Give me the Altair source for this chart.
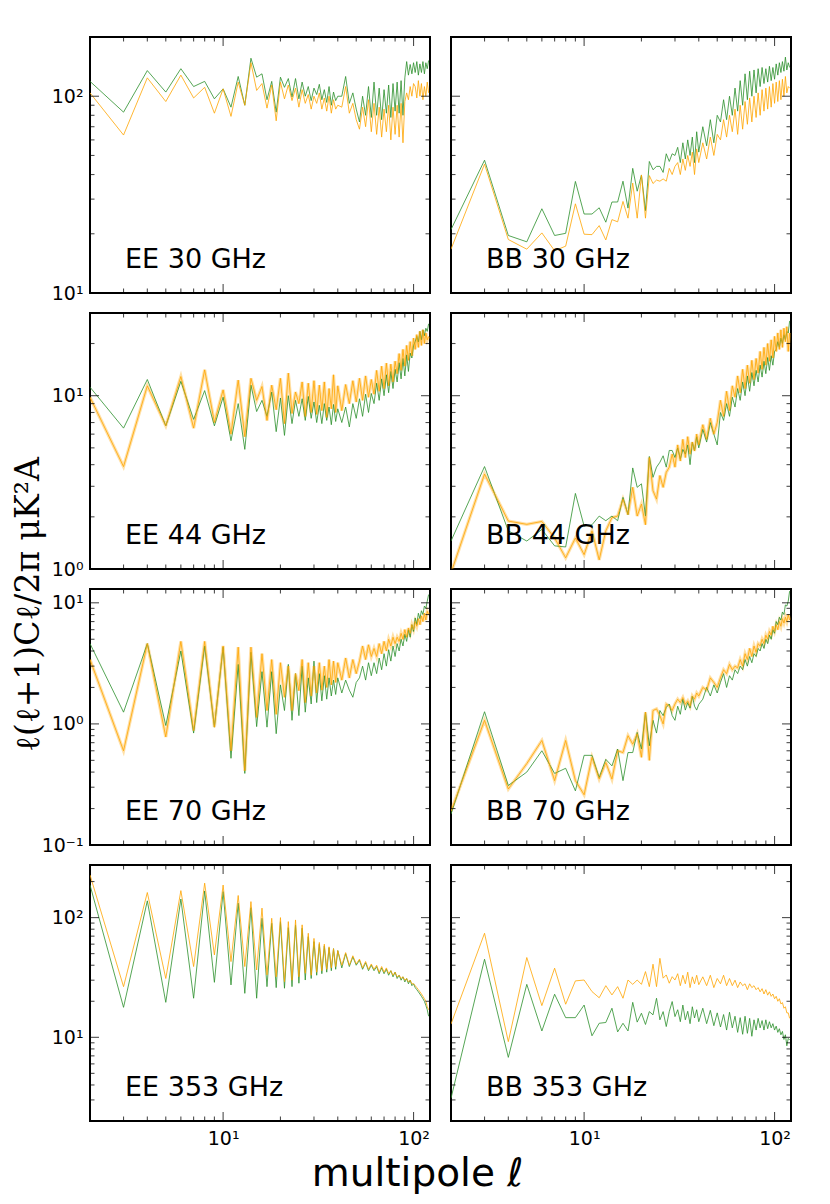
import altair as alt
import pandas as pd

# multipoles (ell) sampled
ELL = [2, 3, 4, 5, 6, 7, 8, 9, 10, 11, 12, 13, 14, 15, 16, 17, 18, 19, 20, 21,
       22, 23, 24, 25, 26, 27, 28, 29, 30, 31, 32, 33, 34, 35, 36, 37, 38, 39, 40,
       42, 44, 46, 48, 50, 52, 54, 56, 58, 60, 62, 64, 66, 68, 70, 72, 74, 76, 78, 80,
       82, 84, 86, 88, 90, 92, 94, 96, 98, 100, 102, 104, 106, 108, 110, 112, 114, 116, 118, 120]

EE30_G = [119, 83, 135, 105, 138, 112, 119, 97, 109, 88, 126, 90, 156, 125, 130, 96, 119, 83, 125, 111,
          123, 99, 123, 97, 118, 100, 112, 95, 110,
          102, 115, 96, 108, 93, 112, 90, 105, 95, 100,
          100, 126, 92, 104, 86, 74, 100, 80, 112, 78,
          118, 80, 110, 76, 108, 82, 114, 78, 116, 84,
          118, 82, 120, 80, 124, 150, 128, 145, 130, 148,
          132, 150, 128, 146, 132, 150, 130, 148, 138, 152]
EE30_O = [104, 63.5, 124, 94, 128, 98, 111, 82, 109, 79, 118, 90, 148, 107, 116, 87, 114, 75, 118, 97,
          114, 95, 110, 88, 108, 92, 102, 86, 100,
          92, 104, 86, 98, 84, 100, 82, 96, 86, 90,
          88, 112, 82, 92, 76, 68, 88, 70, 96, 66,
          92, 64, 88, 62, 86, 66, 90, 60, 88, 64,
          90, 62, 92, 58, 94, 104, 96, 112, 100, 116,
          112, 98, 120, 100, 116, 96, 112, 100, 118, 104]

BB30_G = [21, 47.3, 19.6, 18.2, 26.8, 19.6, 20.1, 36.9, 25.2, 25.2, 27.1, 22.9, 29, 29, 37, 27, 43, 32.9, 39.8, 26.2,
          46.6, 42.3, 44, 44, 41, 51, 46.6, 51, 50,
          55, 46, 58, 48, 60, 50, 62, 46, 66, 52,
          70, 56, 76, 58, 80, 74, 96, 76, 100, 80,
          110, 84, 120, 90, 130, 96, 134, 100, 136, 104,
          138, 112, 140, 116, 138, 118, 142, 120, 140, 122,
          146, 128, 148, 132, 150, 134, 158, 136, 148, 140]
BB30_O = [16.7, 45.2, 18.7, 16.7, 20.2, 16.4, 17.3, 28.4, 19.9, 19.8, 22, 18.6, 23.6, 23, 29.2, 24, 36.2, 24, 39.8, 24,
          39.5, 36, 37.5, 37, 38, 37, 43, 40, 44,
          46, 40, 48, 42, 50, 44, 52, 40, 54, 46,
          58, 48, 62, 50, 64, 60, 76, 62, 80, 66,
          86, 64, 90, 68, 94, 72, 98, 74, 100, 78,
          104, 80, 108, 84, 110, 86, 112, 88, 116, 92,
          118, 94, 120, 96, 122, 100, 126, 104, 112, 110]

EE44_G = [11.2, 6.5, 12.4, 6.7, 12.1, 7.3, 10.7, 6.7, 9.8, 5.5, 9.0, 4.9, 11.5, 8.1, 9.4, 7.6, 10.5, 6.2, 9.7, 5.9,
          10, 6.9, 9.4, 7.6, 9.6, 7.2, 9.9, 7.4, 9.2,
          7.0, 8.8, 6.9, 9.0, 7.2, 8.6, 6.8, 8.9, 7.1, 8.4,
          7.0, 8.6, 6.6, 9.0, 7.4, 9.6, 7.6, 10.2, 8.0, 10.3,
          9.0, 11.8, 9.4, 12.5, 10.0, 13.2, 10.4, 13.8, 11.0, 14.2,
          12.0, 15.5, 12.5, 16.4, 13.0, 17.2, 13.8, 17.6, 16.5, 19.5,
          20.5, 22, 20.4, 23.5, 21, 24, 22.2, 24.5, 23.5, 26]
EE44_O = [9.8, 3.9, 11.4, 6.7, 12.9, 6.5, 14.1, 7.0, 10.8, 6.0, 12.3, 5.8, 12.6, 9.4, 11.3, 7.2, 11.5, 8.3, 12.6, 6.9,
          13.5, 7.9, 10.5, 9.0, 12.0, 7.6, 11.8, 8.0, 12.2,
          7.8, 11.5, 8.2, 12.0, 7.5, 11.0, 8.4, 13.2, 8.0, 11.4,
          8.2, 11.6, 9.0, 12.2, 9.2, 12.6, 9.4, 13.0, 9.8, 12.4,
          10.2, 14.0, 10.6, 14.8, 11.0, 15.4, 11.4, 15.2, 12.0, 15.8,
          13.4, 17.5, 14.0, 18.5, 14.8, 19.5, 16.0, 20.5, 17.0, 21.5,
          18.5, 22.5, 19.0, 23.5, 19.5, 24.0, 20.0, 23.0, 21.0, 22.0]

BB44_G = [1.45, 3.9, 1.66, 1.45, 1.69, 1.36, 1.34, 2.73, 1.77, 1.8, 2.02, 1.9, 2.02, 1.9, 2.59, 2.06, 3.83, 2.96, 3.1, 2.02,
          4.46, 3.38, 3.87, 4.13, 4.5, 3.87, 4.83, 4.83, 4.4,
          5.0, 4.3, 4.9, 4.6, 5.2, 4.0, 5.4, 4.8, 5.8, 5.0,
          6.4, 5.4, 7.0, 6.0, 5.2, 8.0, 7.2, 9.0, 7.6, 9.8,
          8.6, 11.0, 9.4, 12.0, 10.0, 13.0, 10.6, 13.6, 11.4, 14.0,
          12.0, 15.0, 12.8, 15.8, 13.4, 16.6, 14.0, 17.0, 15.0, 18.0,
          18.5, 20.5, 19.0, 21.5, 20.0, 22.5, 21.0, 23.5, 23.0, 27.0]
BB44_O = [0.95, 3.53, 1.89, 1.81, 1.88, 1.51, 1.16, 1.51, 1.21, 1.66, 1.13, 1.66, 1.98, 2.02, 2.53, 2.06, 2.96, 2.02, 2.37, 1.8,
          4.4, 2.83, 2.53, 3.46, 2.96, 3.61, 3.87, 4.6, 3.87,
          5.2, 4.2, 5.6, 4.4, 5.8, 4.6, 5.4, 4.8, 6.0, 5.2,
          6.8, 5.6, 7.4, 6.0, 7.0, 9.4, 7.6, 10.6, 8.2, 11.4,
          9.8, 13.0, 10.4, 14.2, 11.0, 15.0, 11.8, 16.0, 12.4, 16.4,
          13.5, 18.0, 14.2, 19.0, 15.0, 20.0, 15.8, 21.0, 16.5, 22.0,
          18.0, 23.0, 18.5, 24.0, 19.0, 24.5, 20.5, 25.0, 18.0, 23.0]

EE70_G = [4.6, 1.25, 4.6, 0.97, 4.0, 0.84, 4.4, 0.94, 4.3, 0.52, 3.1, 0.39, 3.9, 0.95, 2.7, 0.94, 2.7, 0.83, 2.1, 1.29,
          3.1, 1.07, 2.6, 1.17, 3.0, 1.25, 2.4, 1.46, 3.3,
          1.5, 2.6, 1.55, 2.5, 1.6, 2.4, 1.7, 2.3, 1.75, 2.4,
          1.8, 2.3, 1.9, 1.66, 2.2, 2.4, 3.0, 2.3, 3.2, 2.5,
          3.2, 2.6, 3.5, 2.8, 3.8, 3.0, 4.1, 3.3, 4.4, 3.6,
          4.6, 4.0, 5.0, 4.4, 5.5, 4.8, 6.0, 5.2, 6.6, 5.8,
          7.5, 6.6, 8.2, 7.4, 8.6, 8.0, 9.4, 9.0, 10.3, 11.7]
EE70_O = [3.4, 0.6, 4.6, 0.78, 4.8, 0.88, 4.8, 0.94, 4.4, 0.6, 4.3, 0.41, 4.3, 1.13, 3.8, 1.29, 3.4, 1.2, 3.2, 1.66,
          3.0, 1.29, 2.6, 1.88, 3.4, 1.5, 3.2, 1.7, 3.0,
          1.8, 3.2, 1.9, 3.0, 2.0, 3.4, 2.1, 3.3, 2.2, 3.2,
          2.3, 3.5, 2.4, 3.4, 2.6, 3.3, 4.4, 3.4, 4.5, 3.6,
          4.2, 3.6, 4.6, 3.8, 4.8, 4.0, 5.0, 4.4, 5.2, 4.6,
          5.2, 4.8, 5.6, 5.0, 6.0, 5.2, 6.2, 5.6, 6.6, 6.0,
          7.0, 6.4, 7.4, 6.6, 7.8, 7.0, 8.2, 7.2, 8.5, 8.0]

BB70_G = [0.18, 1.26, 0.31, 0.40, 0.60, 0.39, 0.43, 0.28, 0.55, 0.55, 0.36, 0.51, 0.45, 0.62, 0.34, 0.58, 0.58, 0.85, 0.62, 1.25,
          0.66, 1.07, 0.84, 1.29, 1.17, 1.37, 1.46, 1.17, 1.07,
          1.4, 1.2, 1.6, 1.3, 1.5, 1.35, 1.7, 1.4, 1.3, 1.45,
          1.6, 2.0, 1.7, 2.1, 1.8, 2.2, 2.6, 2.0, 2.5, 2.3,
          2.8, 2.6, 3.0, 2.8, 3.4, 3.0, 3.6, 3.2, 3.8, 3.6,
          4.2, 4.0, 4.6, 4.2, 5.0, 4.6, 5.4, 5.0, 6.0, 5.6,
          7.0, 6.6, 7.6, 7.2, 8.4, 8.0, 9.6, 9.4, 10.3, 12.5]
BB70_O = [0.19, 1.07, 0.29, 0.47, 0.73, 0.34, 0.73, 0.34, 0.26, 0.53, 0.35, 0.48, 0.35, 0.60, 0.58, 0.80, 0.68, 0.83, 0.53, 1.25,
          0.50, 1.29, 1.33, 1.17, 1.0, 1.46, 1.41, 1.29, 1.46,
          1.6, 1.5, 1.65, 1.45, 1.55, 1.4, 1.7, 1.6, 1.8, 1.7,
          2.0, 1.9, 2.4, 2.2, 2.0, 2.4, 2.8, 2.6, 3.1, 2.8,
          3.0, 2.9, 3.4, 3.0, 3.8, 3.4, 4.2, 3.6, 4.4, 3.9,
          4.6, 4.4, 5.0, 4.6, 5.4, 5.0, 5.8, 5.4, 6.4, 5.8,
          6.6, 6.0, 7.0, 6.4, 7.4, 6.8, 7.6, 7.0, 8.0, 7.2]

EE353_G = [187, 17.8, 138, 19.6, 143, 21.2, 167, 28.8, 165, 27.4, 132, 23.3, 121, 21.2, 98.7, 26.5, 89.7, 26, 92.6, 25.7,
           82.5, 26.5, 86.9, 28.3, 81.5, 30.1, 69.3, 31, 63,
           33, 60, 34, 58, 35, 56, 36, 55, 37, 53,
           38, 50, 39, 47, 40, 44, 37, 42, 36, 40,
           36, 39, 34, 38, 34, 37, 33, 36, 32, 35,
           31, 33, 30, 32, 29, 31, 28, 30, 27, 28,
           26, 25, 24, 23, 22, 21, 20, 18.5, 17, 15]
EE353_O = [227, 26.5, 162, 31, 168, 39, 194, 48.8, 187, 42.9, 153, 39, 136, 36.5, 120, 33.2, 98.7, 32, 100, 29.2,
           92.6, 30, 95.6, 32, 87, 34.3, 74, 33, 67,
           35, 62, 36, 60, 37, 57, 38, 55, 39, 53,
           40, 51, 40, 48, 41, 45, 38, 43, 37, 41,
           37, 40, 35, 39, 35, 38, 34, 36, 33, 35,
           32, 33, 31, 32, 30, 31, 29, 30, 28, 28,
           27, 26, 25, 24, 23, 22, 21, 20, 18, 17]

BB353_G = [3.1, 44.9, 6.8, 27.7, 11.3, 22.9, 14.6, 14.6, 18.6, 10.3, 13.1, 13.3, 17.5, 11.1, 13.1, 11.3, 19.6, 13.4, 15.9, 12.8,
           16.4, 15.4, 21.2, 14, 16.4, 12.3, 16.4, 19.9, 14.9,
           17, 13.5, 18.6, 14, 16.5, 13, 18, 14.5, 17, 13.5,
           17.5, 13, 16.8, 12.5, 16, 12.2, 15.5, 11.5, 16.2, 12.0,
           15.0, 11.0, 14.6, 10.6, 15.0, 10.8, 14.4, 10.2, 14.0, 11.5,
           14.4, 12.0, 13.8, 11.5, 14.0, 11.8, 13.5, 12.0, 13.0, 11.5,
           12.4, 11.0, 11.8, 10.5, 11.2, 9.6, 10.5, 8.5, 9.8, 9.5]
BB353_O = [12.9, 74, 9.2, 46.4, 18.4, 37.8, 18.9, 29.6, 30.1, 24.1, 21.4, 27, 22.6, 26.5, 21.2, 30.1, 27.7, 30.1, 27.7, 35.4,
           26.5, 40.8, 26.5, 45.7, 31.2, 33.2, 28.3, 32.1, 30.1,
           34, 27, 33, 28, 35, 26, 32, 28, 33, 27.5,
           32, 27, 33, 26, 31, 28, 33, 27, 31, 27,
           30, 26, 29, 27, 28, 25, 28, 26, 27, 25,
           26, 24, 25.5, 23, 25, 22.5, 24, 22, 23, 21,
           22, 20, 21, 19, 19.5, 17.5, 18, 16, 16, 14.4]

PANEL_LABELS = [["EE 30 GHz", "BB 30 GHz"], ["EE 44 GHz", "BB 44 GHz"],
                ["EE 70 GHz", "BB 70 GHz"], ["EE 353 GHz", "BB 353 GHz"]]
PANEL_DATA = [[(EE30_G, EE30_O), (BB30_G, BB30_O)],
              [(EE44_G, EE44_O), (BB44_G, BB44_O)],
              [(EE70_G, EE70_O), (BB70_G, BB70_O)],
              [(EE353_G, EE353_O), (BB353_G, BB353_O)]]
PANEL_BAND = [[False, False], [True, True], [True, True], [False, False]]

X_DOMAIN = [2, 122]
X_MAJOR = [10, 100]
X_MINOR = [3, 4, 5, 6, 7, 8, 9, 20, 30, 40, 50, 60, 70, 80, 90]
ROW_DOMAINS = [[10, 200], [1, 30], [0.1, 13], [2, 275]]
ROW_MAJOR = [[10, 100], [1, 10], [0.1, 1, 10], [10, 100]]
ROW_MINOR = [[20, 30, 40, 50, 60, 70, 80, 90, 200],
             [2, 3, 4, 5, 6, 7, 8, 9, 20, 30],
             [0.2, 0.3, 0.4, 0.5, 0.6, 0.7, 0.8, 0.9, 2, 3, 4, 5, 6, 7, 8, 9],
             [2, 3, 4, 5, 6, 7, 8, 9, 20, 30, 40, 50, 60, 70, 80, 90, 200]]

W, H = 340, 256
GREEN = "#2b8f2b"
ORANGE = "#ffa500"
MAJOR_LEN, MINOR_LEN = 9, 4.5
LABEL_EXPR = ("datum.value < 0.5 ? '10⁻¹' : datum.value < 5 ? '10⁰' : "
              "datum.value < 50 ? '10¹' : '10²'")


def make_panel(row, col):
    green, orange = PANEL_DATA[row][col]
    xscale = alt.Scale(type="log", domain=X_DOMAIN, nice=False)
    yscale = alt.Scale(type="log", domain=ROW_DOMAINS[row], nice=False)
    common = dict(ticks=False, domain=False, grid=False, title=None,
                  labelFontSize=19, labelFont="DejaVu Sans", labelColor="black",
                  labelFlush=False, labelExpr=LABEL_EXPR)
    xaxis = alt.Axis(values=X_MAJOR, labelPadding=8, **common) if row == 3 else None
    yaxis = alt.Axis(values=ROW_MAJOR[row], labelPadding=7, **common) if col == 0 else None

    gdf = pd.DataFrame({"ell": ELL, "val": green})
    odf = pd.DataFrame({"ell": ELL, "val": orange})

    def enc_xy():
        return dict(x=alt.X("ell:Q", scale=xscale, axis=xaxis),
                    y=alt.Y("val:Q", scale=yscale, axis=yaxis))

    layers = []
    if PANEL_BAND[row][col]:
        layers.append(alt.Chart(odf).mark_line(color=ORANGE, strokeWidth=3.2, opacity=0.35, clip=True)
                      .encode(**enc_xy()))
    layers.append(alt.Chart(gdf).mark_line(color=GREEN, strokeWidth=0.8, clip=True).encode(**enc_xy()))
    layers.append(alt.Chart(odf).mark_line(color=ORANGE, strokeWidth=0.8, clip=True).encode(**enc_xy()))

    xt = pd.DataFrame({"v": X_MAJOR + X_MINOR,
                       "s": [2 * MAJOR_LEN] * len(X_MAJOR) + [2 * MINOR_LEN] * len(X_MINOR)})
    yt = pd.DataFrame({"v": ROW_MAJOR[row] + ROW_MINOR[row],
                       "s": [2 * MAJOR_LEN] * len(ROW_MAJOR[row]) + [2 * MINOR_LEN] * len(ROW_MINOR[row])})
    for ypos in (0, H):
        layers.append(alt.Chart(xt).mark_tick(orient="vertical", clip=True, thickness=1.1, color="black")
                      .encode(x=alt.X("v:Q", scale=xscale, axis=xaxis), y=alt.value(ypos),
                              size=alt.Size("s:Q", scale=None, legend=None)))
    for xpos in (0, W):
        layers.append(alt.Chart(yt).mark_tick(orient="horizontal", clip=True, thickness=1.1, color="black")
                      .encode(y=alt.Y("v:Q", scale=yscale, axis=yaxis), x=alt.value(xpos),
                              size=alt.Size("s:Q", scale=None, legend=None)))

    lab = pd.DataFrame({"t": [PANEL_LABELS[row][col]]})
    layers.append(alt.Chart(lab).mark_text(align="left", baseline="alphabetic", fontSize=27,
                                           font="DejaVu Sans", color="black")
                  .encode(x=alt.value(35), y=alt.value(H - 25), text="t:N"))
    return alt.layer(*layers).properties(width=W, height=H)


panels = [make_panel(r, c) for r in range(4) for c in range(2)]
grid = alt.concat(*panels, columns=2, spacing={"row": 20, "column": 21}, bounds="flush").properties(
    title=alt.TitleParams("ℓ(ℓ+1)Cℓ/2π μK²A", orient="left", anchor="middle",
                          fontSize=33, font="DejaVu Serif", fontWeight="normal", offset=-6, dx=-12,
                          color="black"))
chart = alt.vconcat(grid).properties(
    title=alt.TitleParams("multipole ℓ", orient="bottom", anchor="middle", fontSize=39,
                          font="DejaVu Sans", fontWeight="normal", offset=6, dx=15, color="black"),
    padding={"left": 5, "top": 28, "right": 5, "bottom": 5},
).configure_view(stroke="black", strokeWidth=2)

chart.save("out.html", embed_options={"renderer": "svg", "actions": False})
